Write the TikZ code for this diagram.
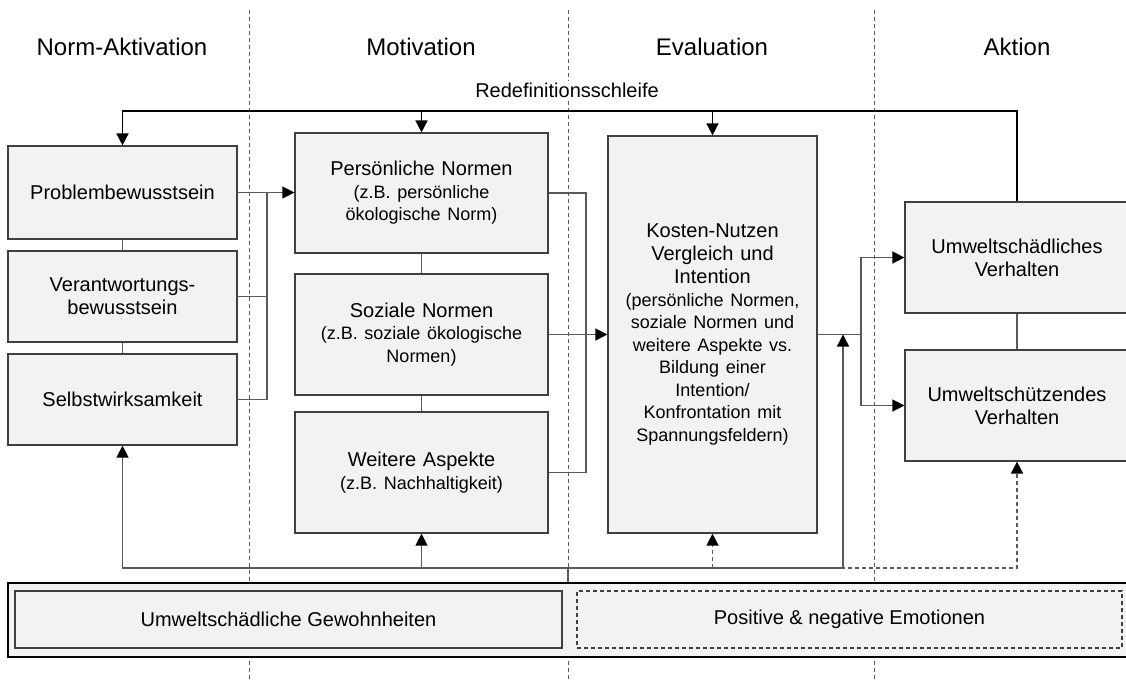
\documentclass[tikz,border=0pt]{standalone}
\usepackage{fontspec}
\setmainfont{Liberation Sans}
\usepackage{tikz}
\usetikzlibrary{arrows.meta,positioning}
\definecolor{boxfill}{HTML}{F2F2F2}
\definecolor{boxline}{HTML}{404040}
\definecolor{linegray}{HTML}{5A5A5A}
\newcommand{\subtxt}[1]{{\fontsize{18}{22.5}\selectfont #1\par}}

\begin{document}
\begin{tikzpicture}[
x=1pt, y=-1pt,
every node/.style={font=\fontsize{20}{23}\selectfont},
phase/.style={font=\fontsize{24}{28}\selectfont},
box/.style={draw=boxline, fill=boxfill, line width=1.2pt, align=center, inner sep=0pt},
conn/.style={draw=linegray, line width=1.4pt},
arr/.style={conn, -{Triangle[length=12pt,width=12pt,color=black]}},
darr/.style={arr, dash pattern=on 4pt off 3pt},
looparr/.style={draw=black, line width=1.6pt, -{Triangle[length=12pt,width=12pt,color=black]}},
divider/.style={draw=gray!70!black, dash pattern=on 4pt off 3pt, line width=0.9pt}
]
\useasboundingbox (0,0) rectangle (1126,680);

% phase dividers
\draw[divider] (249,10) -- (249,680);
\draw[divider] (568,10) -- (568,680);
\draw[divider] (874,10) -- (874,680);

% phase headers
\node[phase] (normakt) at (122,47) {Norm-Aktivation};
\node[phase] (motiv) at (421,47) {Motivation};
\node[phase] (evalhead) at (712,47) {Evaluation};
\node[phase] (aktion) at (1017,47) {Aktion};
\node[fill=white, inner sep=2pt] (loop) at (567,90) {Redefinitionsschleife};

% norm activation
\node[box, minimum width=229pt, minimum height=93pt] (prob) at (122.5,192.5) {Problembewusstsein};
\node[box, minimum width=229pt, minimum height=91pt] (verant) at (122.5,296.5) {Verantwortungs-\\bewusstsein};
\node[box, minimum width=229pt, minimum height=91pt] (selbst) at (122.5,399.5) {Selbstwirksamkeit};

% motivation
\node[box, minimum width=253pt, minimum height=120pt, text width=245pt] (pers) at (421.5,193)
  {Persönliche Normen\par\subtxt{(z.B. persönliche\\ökologische Norm)}};
\node[box, minimum width=253pt, minimum height=121pt, text width=245pt] (soz) at (421.5,334.5)
  {Soziale Normen\par\subtxt{(z.B. soziale ökologische\\Normen)}};
\node[box, minimum width=253pt, minimum height=121pt, text width=245pt] (weit) at (421.5,472.5)
  {Weitere Aspekte\par\subtxt{(z.B. Nachhaltigkeit)}};

% evaluation
\node[box, minimum width=209pt, minimum height=397pt, text width=205pt] (evalbox) at (712.5,334.5)
  {Kosten-Nutzen\\Vergleich und\\Intention\par
   \subtxt{(persönliche Normen,\\soziale Normen und\\weitere Aspekte vs.\\Bildung einer\\Intention/\\Konfrontation mit\\Spannungsfeldern)}};

% action
\node[box, minimum width=224pt, minimum height=111pt] (schaed) at (1017,257.5) {Umweltschädliches\\Verhalten};
\node[box, minimum width=224pt, minimum height=111pt] (schuetz) at (1017,405.5) {Umweltschützendes\\Verhalten};

% habits and emotions
\node[box, draw=black, minimum width=1124pt, minimum height=74pt] (bottom) at (570,620) {};
\node[box, minimum width=547pt, minimum height=57pt] (gewohn) at (288.5,619.5) {Umweltschädliche Gewohnheiten};
\node[box, dash pattern=on 4pt off 3pt, minimum width=545pt, minimum height=57pt] (emot) at (849.5,619.5) {Positive \& negative Emotionen};

% junction points
\coordinate (lj) at (267,0);
\coordinate (mj) at (586,0);
\coordinate (ej) at (861,0);
\coordinate (fb) at (843,0);
\coordinate (top) at (0,111);
\coordinate (stem) at (568,568);

% stacks
\draw[conn] (prob) -- (verant);
\draw[conn] (verant) -- (selbst);
\draw[conn] (pers) -- (soz);
\draw[conn] (soz) -- (weit);
\draw[conn] (schaed) -- (schuetz);

% norm activation -> motivation
\draw[arr] (prob.east) -- (prob.east -| pers.west);
\draw[conn] (verant.east) -| (lj |- prob.east);
\draw[conn] (selbst.east) -| (lj |- prob.east);

% motivation -> evaluation
\draw[conn] (pers.east) -| (mj |- weit.east) -- (weit.east);
\draw[arr] (soz.east) -- (soz.east -| evalbox.west);

% evaluation -> action
\draw[conn] (evalbox.east) -- (evalbox.east -| ej);
\draw[arr] (evalbox.east -| ej) |- (schaed.west);
\draw[arr] (evalbox.east -| ej) |- (schuetz.west);

% redefinition loop
\draw[looparr] (schaed.north) |- (top -| prob.north) -- (prob.north);
\draw[looparr] (top -| pers.north) -- (pers.north);
\draw[looparr] (top -| evalbox.north) -- (evalbox.north);

% feedback from habits and emotions
\draw[darr] (stem) -| (schuetz.south);
\draw[darr] (stem -| evalbox.south) -- (evalbox.south);
\draw[conn] (stem) -- (stem |- bottom.north);
\draw[arr] (stem) -| (selbst.south);
\draw[arr] (stem) -| (weit.south);
\draw[arr] (stem) -| (fb |- evalbox.east);

\end{tikzpicture}
\end{document}
